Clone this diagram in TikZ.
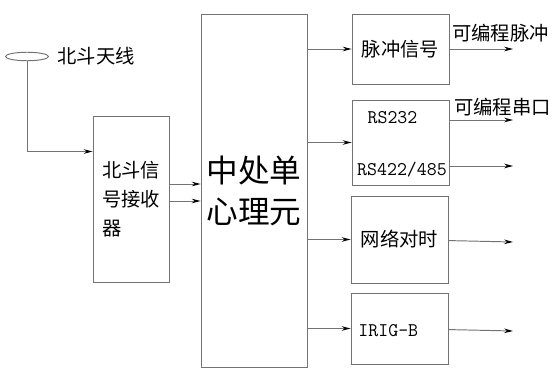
\documentclass[tikz,border=0pt]{standalone}
\usepackage{fontspec}
\setmainfont{Noto Sans CJK SC}
\usepackage{tikz}
\usetikzlibrary{arrows.meta,shapes}

\begin{document}
\begin{tikzpicture}[x=0.02cm,y=-0.02cm,line width=0.55pt,
box/.style={draw=black!55,shape=rectangle,inner sep=0pt},
txt/.style={font=\fontsize{11}{13}\selectfont,inner sep=0pt},
mono/.style={font=\fontsize{11}{13}\ttfamily,inner sep=0pt},
link/.style={draw=black!55,-{Stealth[length=5pt,width=2.6pt,color=black]}}]
\useasboundingbox (0,0) rectangle (556,382);
\node[draw=black!55,shape=ellipse,minimum width=0.86cm,minimum height=0.17cm,inner sep=0pt](ant) at (27,56.5){};
\node[txt,anchor=west](antl) at (57,56){北斗天线};
\node[box,minimum width=1.52cm,minimum height=3.34cm,align=left,font=\fontsize{11}{16.5}\selectfont](rx) at (131,199.5){北斗信\\号接收\\器};
\node[box,minimum width=2.12cm,minimum height=7.08cm,align=center,font=\fontsize{18}{23}\selectfont](cpu) at (254,191){中处单\\心理元};
\node[box,minimum width=1.94cm,minimum height=1.4cm,txt](b1) at (400.5,49){脉冲信号};
\node[box,minimum width=1.94cm,minimum height=1.7cm](b2) at (400.5,142.5){};
\node[box,minimum width=1.94cm,minimum height=1.74cm,txt](b3) at (399.5,239.5){网络对时};
\node[box,minimum width=1.94cm,minimum height=1.42cm](b4) at (399.5,328.5){};
\node[mono](rs1) at (392.5,118){RS232};
\node[mono](rs2) at (402,170){RS422/485};
\node[mono,anchor=west](irig) at (358,331){IRIG-B};
\node[txt](p1) at (500.5,33){可编程脉冲};
\node[txt](p2) at (502.5,107){可编程串口};
\coordinate (rxin) at ([yshift=-0.72cm]rx.north west);
\coordinate (r1) at ([yshift=0.31cm]rx.east);
\coordinate (r2) at ([yshift=-0.03cm]rx.east);
\coordinate (o1) at (513,49);
\coordinate (o2) at (513,120);
\coordinate (o3) at (513,166);
\coordinate (o4) at (513,242);
\coordinate (o5) at (513,331);
\draw[link](ant)|-(rxin);
\draw[link](r1)--(r1 -| cpu.west);
\draw[link](r2)--(r2 -| cpu.west);
\foreach \b in {b1,b2,b3,b4}
  \draw[link](cpu.east |- \b)--(\b);
\draw[link](b1)--(o1);
\draw[link](o2 -| b2.east)--(o2);
\draw[link](o3 -| b2.east)--(o3);
\draw[link](b3)--(o4);
\draw[link](b4)--(o5);
\end{tikzpicture}
\end{document}
